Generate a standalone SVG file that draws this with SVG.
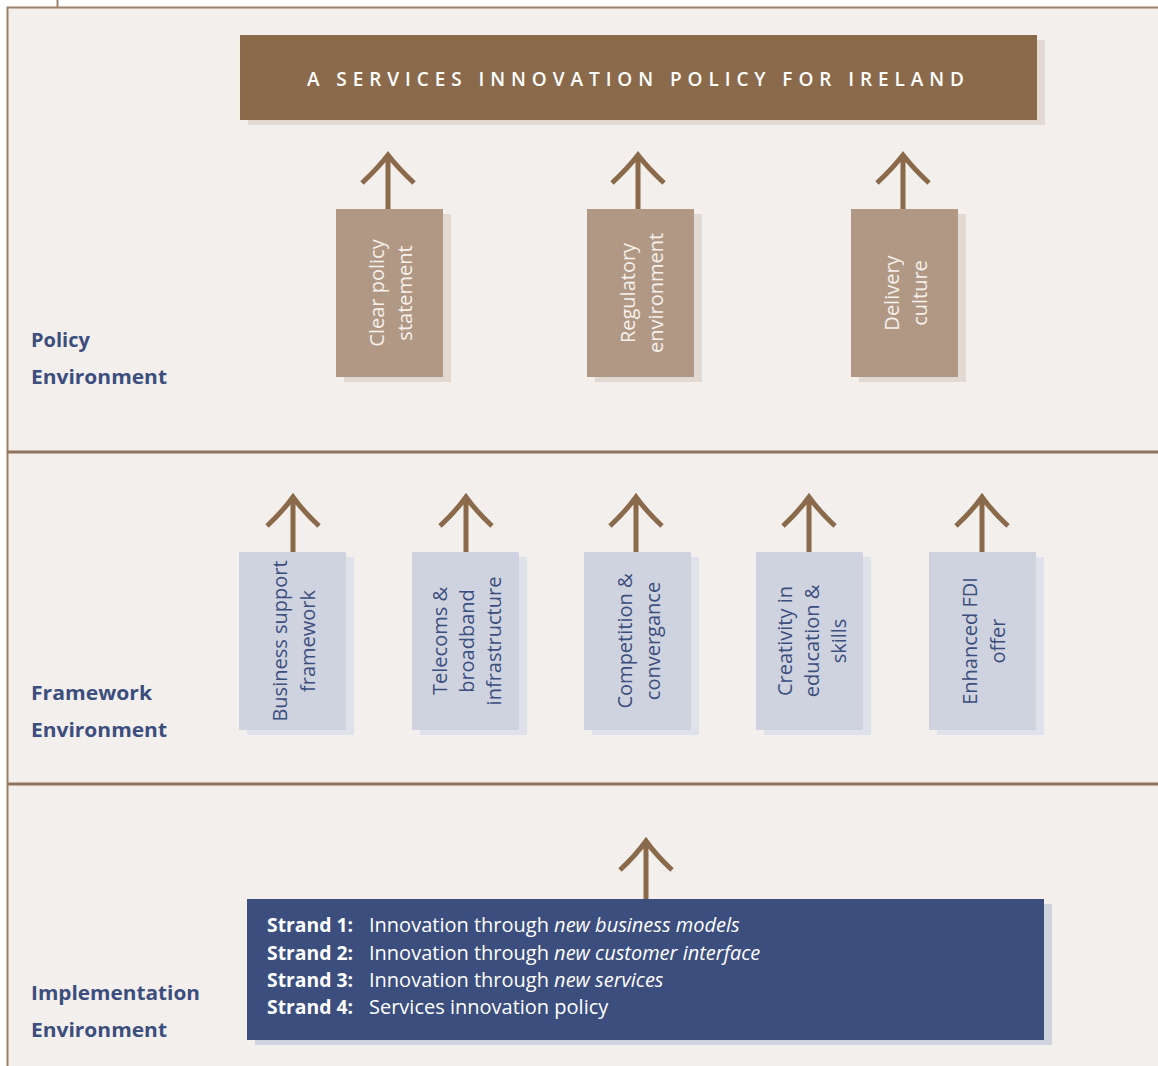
<svg xmlns="http://www.w3.org/2000/svg" width="1158" height="1066" viewBox="0 0 1158 1066">
<style>
.panel{fill:#f3efec;stroke:#9c8069;stroke-width:2}
.div{stroke:#8f735a;stroke-width:3}
.shadowP{fill:#e2d9d2}
.shadowF{fill:#e0e2eb}
.boxP{fill:#b09884}
.boxF{fill:#cfd3df}
.arrow{fill:none;stroke:#8a6a4b;stroke-width:5}
.lblP{font-family:"Open Sans","Noto Sans",sans-serif;font-size:20px;fill:#f6f1ec;text-anchor:middle}
.lblF{font-family:"Open Sans","Noto Sans",sans-serif;font-size:20px;fill:#3b4e7e;text-anchor:middle}
.env{font-family:"Open Sans","Noto Sans",sans-serif;font-size:20px;font-weight:700;fill:#3b4e7e}
.strand{font-family:"Open Sans","Noto Sans",sans-serif;font-size:20px;fill:#ffffff}
.title{font-family:"Open Sans","Noto Sans",sans-serif;font-size:19px;font-weight:600;fill:#ffffff}
</style>
<rect x="0" y="0" width="1158" height="1066" fill="#ffffff"/>
<line x1="57.5" y1="0" x2="57.5" y2="8" stroke="#9c8069" stroke-width="2"/>
<rect class="panel" x="7.5" y="7.5" width="1160" height="1070"/>
<line class="div" x1="7" y1="452" x2="1158" y2="452"/>
<line class="div" x1="7" y1="784" x2="1158" y2="784"/>

<g id="title">
<rect x="248" y="40" width="797" height="85" fill="#e2d9d2"/>
<rect x="240" y="35" width="797" height="85" fill="#8a6a4b"/>
<text class="title" x="307" y="86" textLength="657" lengthAdjust="spacing">A SERVICES INNOVATION POLICY FOR IRELAND</text>
</g>

<g id="label-policy"><text class="env" x="31" y="347">Policy</text><text class="env" x="31" y="384" textLength="136" lengthAdjust="spacingAndGlyphs">Environment</text></g>
<g id="label-framework"><text class="env" x="31" y="700" textLength="121" lengthAdjust="spacingAndGlyphs">Framework</text><text class="env" x="31" y="737" textLength="136" lengthAdjust="spacingAndGlyphs">Environment</text></g>
<g id="label-implementation"><text class="env" x="31" y="1000" textLength="169" lengthAdjust="spacingAndGlyphs">Implementation</text><text class="env" x="31" y="1037" textLength="136" lengthAdjust="spacingAndGlyphs">Environment</text></g>

<g id="connectors">
<path class="arrow" d="M388,209 V155 M362,183 Q378,168 388,155 Q398,168 414,183"/>
<path class="arrow" d="M638,209 V155 M612,183 Q628,168 638,155 Q648,168 664,183"/>
<path class="arrow" d="M903,209 V155 M877,183 Q893,168 903,155 Q913,168 929,183"/>
<path class="arrow" d="M293,552 V497 M267,526 Q283,511 293,497 Q303,511 319,526"/>
<path class="arrow" d="M466,552 V497 M440,526 Q456,511 466,497 Q476,511 492,526"/>
<path class="arrow" d="M636,552 V497 M610,526 Q626,511 636,497 Q646,511 662,526"/>
<path class="arrow" d="M809,552 V497 M783,526 Q799,511 809,497 Q819,511 835,526"/>
<path class="arrow" d="M982,552 V497 M956,526 Q972,511 982,497 Q992,511 1008,526"/>
<path class="arrow" d="M646,899 V841 M620,870 Q636,855 646,841 Q656,855 672,870"/>
</g>

<g id="p1">
<rect class="shadowP" x="344" y="214" width="107" height="168"/>
<rect class="boxP" x="336" y="209" width="107" height="168"/>
<g transform="translate(389.5,293) rotate(-90)"><text class="lblP" x="0" y="-6">Clear policy</text><text class="lblP" x="0" y="22">statement</text></g>
</g>
<g id="p2">
<rect class="shadowP" x="595" y="214" width="107" height="168"/>
<rect class="boxP" x="587" y="209" width="107" height="168"/>
<g transform="translate(640.5,293) rotate(-90)"><text class="lblP" x="0" y="-6">Regulatory</text><text class="lblP" x="0" y="22">environment</text></g>
</g>
<g id="p3">
<rect class="shadowP" x="859" y="214" width="107" height="168"/>
<rect class="boxP" x="851" y="209" width="107" height="168"/>
<g transform="translate(904.5,293) rotate(-90)"><text class="lblP" x="0" y="-6">Delivery</text><text class="lblP" x="0" y="22">culture</text></g>
</g>

<g id="f1">
<rect class="shadowF" x="247" y="557" width="107" height="178"/>
<rect class="boxF" x="239" y="552" width="107" height="178"/>
<g transform="translate(292.5,641) rotate(-90)"><text class="lblF" x="0" y="-6">Business support</text><text class="lblF" x="0" y="22">framework</text></g>
</g>
<g id="f2">
<rect class="shadowF" x="420" y="557" width="107" height="178"/>
<rect class="boxF" x="412" y="552" width="107" height="178"/>
<g transform="translate(465.5,641) rotate(-90)"><text class="lblF" x="0" y="-19">Telecoms &amp;</text><text class="lblF" x="0" y="8">broadband</text><text class="lblF" x="0" y="35">infrastructure</text></g>
</g>
<g id="f3">
<rect class="shadowF" x="592" y="557" width="107" height="178"/>
<rect class="boxF" x="584" y="552" width="107" height="178"/>
<g transform="translate(637.5,641) rotate(-90)"><text class="lblF" x="0" y="-6">Competition &amp;</text><text class="lblF" x="0" y="22">convergance</text></g>
</g>
<g id="f4">
<rect class="shadowF" x="764" y="557" width="107" height="178"/>
<rect class="boxF" x="756" y="552" width="107" height="178"/>
<g transform="translate(809.5,641) rotate(-90)"><text class="lblF" x="0" y="-18">Creativity in</text><text class="lblF" x="0" y="9">education &amp;</text><text class="lblF" x="0" y="36">skills</text></g>
</g>
<g id="f5">
<rect class="shadowF" x="937" y="557" width="107" height="178"/>
<rect class="boxF" x="929" y="552" width="107" height="178"/>
<g transform="translate(982.5,641) rotate(-90)"><text class="lblF" x="0" y="-6">Enhanced FDI</text><text class="lblF" x="0" y="22">offer</text></g>
</g>

<g id="strands">
<rect x="255" y="904" width="797" height="141" fill="#cfd3de"/>
<rect x="247" y="899" width="797" height="141" fill="#3b4e7e"/>
<text class="strand" x="267" y="932" font-weight="700" textLength="86" lengthAdjust="spacingAndGlyphs">Strand 1:</text>
<text class="strand" x="267" y="960" font-weight="700" textLength="86" lengthAdjust="spacingAndGlyphs">Strand 2:</text>
<text class="strand" x="267" y="987" font-weight="700" textLength="86" lengthAdjust="spacingAndGlyphs">Strand 3:</text>
<text class="strand" x="267" y="1014" font-weight="700" textLength="86" lengthAdjust="spacingAndGlyphs">Strand 4:</text>
<text class="strand" x="369" y="932">Innovation through <tspan font-style="italic">new business models</tspan></text>
<text class="strand" x="369" y="960">Innovation through <tspan font-style="italic">new customer interface</tspan></text>
<text class="strand" x="369" y="987">Innovation through <tspan font-style="italic">new services</tspan></text>
<text class="strand" x="369" y="1014">Services innovation policy</text>
</g>
</svg>
